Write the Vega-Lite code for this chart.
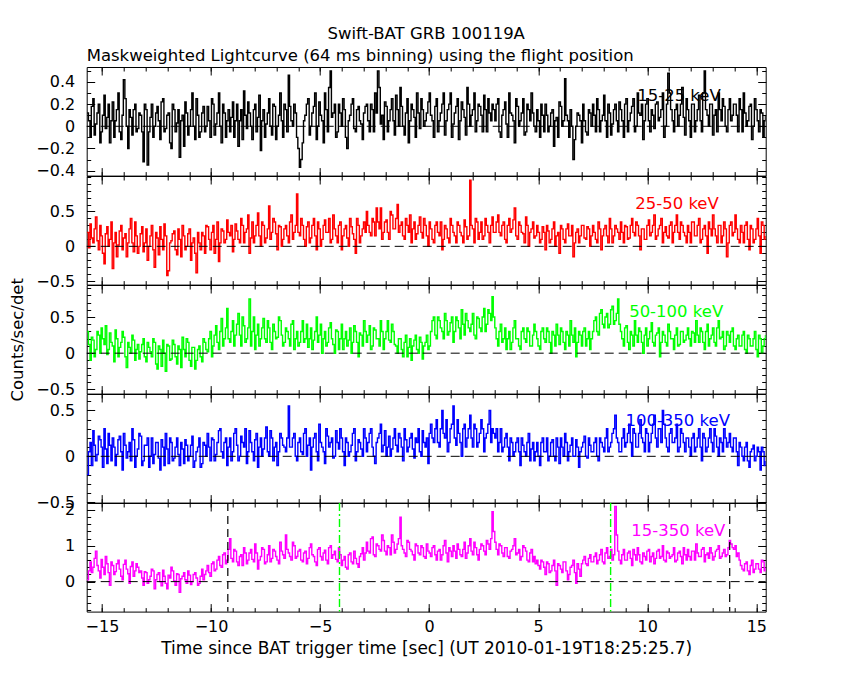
{
  "$schema": "https://vega.github.io/schema/vega-lite/v6.json",
  "background": "white",
  "padding": {"left": 8.7, "top": 26, "right": 5, "bottom": 5},
  "title": {"text": "Swift-BAT GRB 100119A", "anchor": "middle", "fontSize": 16.5, "fontWeight": "normal", "color": "black", "offset": 5, "dx": 38},
  "spacing": 0,
  "bounds": "flush",
  "datasets": {
    "lc": [
      {"t":-15.68,"a":0.12,"b":0.2,"c":0.3,"d":-0.2,"e":0.05},
      {"t":-15.62,"a":0.05,"b":-0.02,"c":0.12,"d":0.05,"e":0.3},
      {"t":-15.55,"a":-0.1,"b":0.32,"c":-0.1,"d":0.15,"e":0.55},
      {"t":-15.49,"a":0.18,"b":0.12,"c":0.22,"d":-0.1,"e":0.25},
      {"t":-15.42,"a":0.25,"b":0.05,"c":0.18,"d":0.28,"e":0.4},
      {"t":-15.36,"a":-0.08,"b":0.25,"c":-0.05,"d":0.12,"e":0.65},
      {"t":-15.3,"a":0.02,"b":0.42,"c":0.05,"d":-0.05,"e":0.85},
      {"t":-15.23,"a":0.12,"b":0.08,"c":0.3,"d":0.02,"e":0.45},
      {"t":-15.17,"a":0.2,"b":-0.05,"c":0.25,"d":0.22,"e":0.3},
      {"t":-15.1,"a":-0.15,"b":0.3,"c":0.0,"d":0.18,"e":0.1},
      {"t":-15.04,"a":-0.05,"b":0.15,"c":0.35,"d":0.1,"e":0.62},
      {"t":-14.98,"a":0.1,"b":-0.1,"c":0.2,"d":-0.12,"e":0.4},
      {"t":-14.91,"a":0.28,"b":-0.25,"c":0.12,"d":0.3,"e":0.2},
      {"t":-14.85,"a":-0.02,"b":0.18,"c":0.38,"d":0.08,"e":0.7},
      {"t":-14.78,"a":0.08,"b":0.28,"c":-0.02,"d":-0.08,"e":0.5},
      {"t":-14.72,"a":0.2,"b":0.0,"c":0.05,"d":0.25,"e":0.25},
      {"t":-14.66,"a":-0.15,"b":0.1,"c":0.28,"d":0.12,"e":-0.1},
      {"t":-14.59,"a":0.05,"b":0.35,"c":0.15,"d":-0.05,"e":0.55},
      {"t":-14.53,"a":0.22,"b":-0.32,"c":0.1,"d":0.2,"e":0.45},
      {"t":-14.46,"a":-0.1,"b":0.05,"c":-0.12,"d":0.1,"e":0.2},
      {"t":-14.4,"a":0.05,"b":0.2,"c":0.32,"d":-0.1,"e":0.28},
      {"t":-14.34,"a":0.15,"b":-0.15,"c":0.2,"d":0.02,"e":0.5},
      {"t":-14.27,"a":0.3,"b":0.02,"c":-0.05,"d":0.18,"e":0.6},
      {"t":-14.21,"a":-0.05,"b":0.22,"c":0.08,"d":0.22,"e":0.35},
      {"t":-14.14,"a":-0.12,"b":0.3,"c":0.15,"d":0.05,"e":0.15},
      {"t":-14.08,"a":0.1,"b":-0.05,"c":0.3,"d":-0.15,"e":0.05},
      {"t":-14.02,"a":0.42,"b":0.12,"c":0.22,"d":0.25,"e":0.48},
      {"t":-13.95,"a":0.25,"b":0.18,"c":-0.05,"d":0.12,"e":0.6},
      {"t":-13.89,"a":0.0,"b":-0.15,"c":-0.2,"d":-0.02,"e":0.35},
      {"t":-13.82,"a":-0.2,"b":0.05,"c":0.15,"d":0.05,"e":0.22},
      {"t":-13.76,"a":0.15,"b":0.25,"c":0.08,"d":0.15,"e":-0.05},
      {"t":-13.7,"a":0.08,"b":0.4,"c":0.0,"d":-0.05,"e":0.42},
      {"t":-13.63,"a":-0.08,"b":0.05,"c":0.25,"d":0.3,"e":0.55},
      {"t":-13.57,"a":0.15,"b":-0.08,"c":0.18,"d":0.18,"e":0.15},
      {"t":-13.5,"a":0.2,"b":0.35,"c":-0.1,"d":-0.12,"e":0.3},
      {"t":-13.44,"a":-0.05,"b":0.15,"c":0.05,"d":0.0,"e":0.5},
      {"t":-13.38,"a":-0.02,"b":-0.1,"c":0.12,"d":0.08,"e":0.4},
      {"t":-13.31,"a":0.12,"b":0.0,"c":-0.08,"d":0.25,"e":0.25},
      {"t":-13.25,"a":0.1,"b":0.18,"c":0.02,"d":0.22,"e":0.3},
      {"t":-13.18,"a":-0.05,"b":0.28,"c":0.12,"d":-0.1,"e":0.1},
      {"t":-13.12,"a":-0.32,"b":-0.08,"c":0.2,"d":-0.05,"e":-0.1},
      {"t":-13.06,"a":0.2,"b":0.05,"c":-0.05,"d":0.12,"e":0.28},
      {"t":-12.99,"a":0.15,"b":0.25,"c":-0.12,"d":0.12,"e":0.25},
      {"t":-12.93,"a":-0.35,"b":-0.2,"c":0.15,"d":0.2,"e":-0.05},
      {"t":-12.86,"a":-0.05,"b":0.0,"c":0.08,"d":-0.12,"e":0.05},
      {"t":-12.8,"a":0.08,"b":0.15,"c":0.02,"d":0.0,"e":0.15},
      {"t":-12.74,"a":0.2,"b":0.3,"c":-0.05,"d":0.2,"e":0.35},
      {"t":-12.67,"a":-0.1,"b":-0.05,"c":0.2,"d":-0.08,"e":0.3},
      {"t":-12.61,"a":0.0,"b":-0.3,"c":0.15,"d":0.02,"e":-0.2},
      {"t":-12.54,"a":0.12,"b":0.2,"c":-0.15,"d":0.15,"e":0.05},
      {"t":-12.48,"a":0.18,"b":0.12,"c":-0.22,"d":0.15,"e":0.2},
      {"t":-12.42,"a":0.05,"b":-0.12,"c":0.1,"d":-0.02,"e":0.25},
      {"t":-12.35,"a":-0.12,"b":0.28,"c":0.05,"d":-0.15,"e":0.0},
      {"t":-12.29,"a":0.22,"b":0.1,"c":-0.18,"d":0.18,"e":-0.12},
      {"t":-12.22,"a":0.25,"b":-0.05,"c":0.18,"d":0.1,"e":0.32},
      {"t":-12.16,"a":-0.05,"b":0.32,"c":0.0,"d":-0.1,"e":0.15},
      {"t":-12.1,"a":-0.02,"b":0.15,"c":-0.25,"d":0.25,"e":-0.05},
      {"t":-12.03,"a":0.1,"b":-0.42,"c":0.12,"d":0.08,"e":-0.2},
      {"t":-11.97,"a":0.12,"b":-0.35,"c":0.1,"d":-0.08,"e":0.18},
      {"t":-11.9,"a":-0.15,"b":0.05,"c":-0.1,"d":0.2,"e":0.1},
      {"t":-11.84,"a":-0.2,"b":0.08,"c":-0.08,"d":0.15,"e":0.4},
      {"t":-11.78,"a":0.2,"b":0.18,"c":0.18,"d":-0.05,"e":0.3},
      {"t":-11.71,"a":0.15,"b":0.22,"c":0.12,"d":-0.02,"e":0.02},
      {"t":-11.65,"a":-0.05,"b":-0.05,"c":-0.05,"d":0.1,"e":-0.1},
      {"t":-11.58,"a":0.03,"b":-0.12,"c":-0.15,"d":0.2,"e":0.22},
      {"t":-11.52,"a":0.15,"b":0.25,"c":0.1,"d":0.02,"e":0.2},
      {"t":-11.46,"a":-0.28,"b":0.1,"c":0.05,"d":-0.1,"e":-0.3},
      {"t":-11.39,"a":0.05,"b":-0.15,"c":-0.2,"d":0.15,"e":0.08},
      {"t":-11.33,"a":0.1,"b":0.3,"c":0.22,"d":0.08,"e":0.15},
      {"t":-11.26,"a":-0.18,"b":0.15,"c":0.05,"d":-0.08,"e":0.25},
      {"t":-11.2,"a":0.22,"b":-0.05,"c":-0.05,"d":0.18,"e":0.05},
      {"t":-11.14,"a":0.12,"b":0.0,"c":0.2,"d":0.12,"e":-0.05},
      {"t":-11.07,"a":-0.08,"b":0.18,"c":0.15,"d":-0.05,"e":0.3},
      {"t":-11.01,"a":0.0,"b":0.25,"c":-0.1,"d":0.0,"e":0.18},
      {"t":-10.94,"a":0.15,"b":-0.2,"c":-0.18,"d":0.12,"e":-0.08},
      {"t":-10.88,"a":0.3,"b":0.05,"c":0.08,"d":0.22,"e":0.0},
      {"t":-10.82,"a":0.0,"b":0.12,"c":0.08,"d":-0.12,"e":0.2},
      {"t":-10.75,"a":-0.12,"b":-0.1,"c":-0.22,"d":-0.05,"e":0.25},
      {"t":-10.69,"a":0.25,"b":-0.38,"c":-0.1,"d":0.05,"e":0.1},
      {"t":-10.62,"a":0.1,"b":0.2,"c":0.05,"d":0.1,"e":-0.1},
      {"t":-10.56,"a":-0.1,"b":0.05,"c":0.1,"d":0.2,"e":-0.05},
      {"t":-10.5,"a":-0.05,"b":-0.05,"c":-0.05,"d":-0.12,"e":0.15},
      {"t":-10.43,"a":0.12,"b":0.2,"c":-0.12,"d":-0.08,"e":0.35},
      {"t":-10.37,"a":0.18,"b":0.15,"c":0.2,"d":0.15,"e":0.05},
      {"t":-10.3,"a":-0.05,"b":-0.1,"c":0.15,"d":0.12,"e":0.2},
      {"t":-10.24,"a":0.0,"b":0.3,"c":0.05,"d":0.0,"e":0.3},
      {"t":-10.18,"a":0.18,"b":0.28,"c":0.02,"d":0.25,"e":0.45},
      {"t":-10.11,"a":0.05,"b":0.1,"c":0.2,"d":0.1,"e":0.25},
      {"t":-10.05,"a":-0.1,"b":-0.05,"c":0.3,"d":-0.05,"e":0.15},
      {"t":-9.98,"a":0.25,"b":0.2,"c":-0.05,"d":0.2,"e":0.5},
      {"t":-9.92,"a":0.2,"b":0.3,"c":0.1,"d":0.18,"e":0.55},
      {"t":-9.86,"a":-0.08,"b":-0.1,"c":0.25,"d":-0.05,"e":0.3},
      {"t":-9.79,"a":0.02,"b":0.1,"c":0.38,"d":0.02,"e":0.35},
      {"t":-9.73,"a":0.12,"b":0.35,"c":0.15,"d":0.15,"e":0.6},
      {"t":-9.66,"a":0.3,"b":-0.22,"c":0.05,"d":0.28,"e":0.7},
      {"t":-9.6,"a":0.0,"b":0.05,"c":0.3,"d":0.3,"e":0.45},
      {"t":-9.54,"a":-0.15,"b":0.25,"c":0.48,"d":0.05,"e":0.4},
      {"t":-9.47,"a":0.2,"b":0.22,"c":0.1,"d":-0.02,"e":0.75},
      {"t":-9.41,"a":0.12,"b":0.05,"c":0.2,"d":0.15,"e":0.8},
      {"t":-9.34,"a":-0.1,"b":0.1,"c":0.35,"d":0.2,"e":0.5},
      {"t":-9.28,"a":0.05,"b":0.38,"c":0.62,"d":-0.1,"e":0.6},
      {"t":-9.22,"a":0.15,"b":0.2,"c":0.2,"d":0.1,"e":0.9},
      {"t":-9.15,"a":-0.05,"b":0.15,"c":0.15,"d":0.2,"e":1.2},
      {"t":-9.09,"a":0.08,"b":0.3,"c":0.3,"d":-0.05,"e":0.65},
      {"t":-9.02,"a":0.22,"b":-0.08,"c":0.45,"d":0.05,"e":0.55},
      {"t":-8.96,"a":-0.1,"b":0.1,"c":0.1,"d":0.25,"e":0.9},
      {"t":-8.9,"a":0.05,"b":0.32,"c":0.25,"d":0.3,"e":0.85},
      {"t":-8.83,"a":0.2,"b":0.22,"c":0.4,"d":0.12,"e":0.55},
      {"t":-8.77,"a":-0.18,"b":0.1,"c":0.55,"d":-0.05,"e":0.45},
      {"t":-8.7,"a":0.05,"b":0.05,"c":0.25,"d":0.0,"e":0.7},
      {"t":-8.64,"a":0.15,"b":0.4,"c":0.1,"d":0.22,"e":0.75},
      {"t":-8.58,"a":-0.12,"b":0.3,"c":0.5,"d":0.15,"e":0.45},
      {"t":-8.51,"a":0.32,"b":0.05,"c":0.38,"d":0.1,"e":0.95},
      {"t":-8.45,"a":0.1,"b":0.2,"c":0.15,"d":0.3,"e":0.8},
      {"t":-8.38,"a":-0.02,"b":0.25,"c":0.2,"d":-0.08,"e":0.5},
      {"t":-8.32,"a":0.22,"b":0.45,"c":0.35,"d":0.05,"e":0.6},
      {"t":-8.26,"a":0.12,"b":-0.1,"c":0.75,"d":0.28,"e":0.8},
      {"t":-8.19,"a":0.0,"b":0.12,"c":0.1,"d":0.15,"e":0.9},
      {"t":-8.13,"a":-0.12,"b":0.35,"c":0.3,"d":0.05,"e":0.62},
      {"t":-8.06,"a":0.15,"b":0.05,"c":0.5,"d":-0.05,"e":0.55},
      {"t":-8.0,"a":0.2,"b":0.15,"c":0.05,"d":0.18,"e":1.05},
      {"t":-7.94,"a":-0.05,"b":0.3,"c":0.25,"d":0.25,"e":0.8},
      {"t":-7.87,"a":0.08,"b":0.48,"c":0.4,"d":-0.12,"e":0.35},
      {"t":-7.81,"a":0.28,"b":0.15,"c":0.1,"d":0.1,"e":0.6},
      {"t":-7.74,"a":-0.22,"b":0.0,"c":0.2,"d":0.2,"e":0.7},
      {"t":-7.68,"a":0.05,"b":0.35,"c":0.35,"d":0.0,"e":0.95},
      {"t":-7.62,"a":0.15,"b":0.3,"c":0.48,"d":0.08,"e":0.9},
      {"t":-7.55,"a":-0.1,"b":0.05,"c":0.2,"d":0.2,"e":0.5},
      {"t":-7.49,"a":0.02,"b":0.12,"c":0.15,"d":0.32,"e":0.55},
      {"t":-7.42,"a":0.12,"b":0.25,"c":0.45,"d":0.05,"e":0.75},
      {"t":-7.36,"a":0.25,"b":0.58,"c":0.35,"d":0.0,"e":1.0},
      {"t":-7.3,"a":0.0,"b":0.1,"c":0.15,"d":0.28,"e":0.55},
      {"t":-7.23,"a":-0.08,"b":0.2,"c":0.05,"d":0.2,"e":0.65},
      {"t":-7.17,"a":0.2,"b":0.4,"c":0.4,"d":-0.05,"e":0.9},
      {"t":-7.1,"a":0.18,"b":0.35,"c":0.3,"d":0.1,"e":0.85},
      {"t":-7.04,"a":-0.12,"b":0.18,"c":0.2,"d":0.15,"e":0.7},
      {"t":-6.98,"a":0.0,"b":-0.05,"c":0.22,"d":-0.1,"e":0.6},
      {"t":-6.91,"a":0.1,"b":0.3,"c":0.5,"d":0.05,"e":0.5},
      {"t":-6.85,"a":0.3,"b":0.28,"c":0.45,"d":0.25,"e":1.1},
      {"t":-6.78,"a":0.05,"b":0.0,"c":0.25,"d":0.2,"e":0.85},
      {"t":-6.72,"a":-0.1,"b":0.1,"c":0.1,"d":0.12,"e":0.75},
      {"t":-6.66,"a":0.2,"b":0.25,"c":0.15,"d":0.1,"e":0.65},
      {"t":-6.59,"a":0.15,"b":0.3,"c":0.35,"d":0.05,"e":1.3},
      {"t":-6.53,"a":-0.05,"b":0.15,"c":0.3,"d":0.2,"e":0.9},
      {"t":-6.46,"a":0.46,"b":0.05,"c":0.2,"d":0.55,"e":0.8},
      {"t":-6.4,"a":0.18,"b":0.35,"c":0.1,"d":0.1,"e":0.7},
      {"t":-6.34,"a":0.05,"b":0.45,"c":0.4,"d":0.1,"e":0.6},
      {"t":-6.27,"a":0.0,"b":0.1,"c":0.45,"d":0.2,"e":1.1},
      {"t":-6.21,"a":0.2,"b":0.2,"c":0.05,"d":0.25,"e":1.0},
      {"t":-6.14,"a":0.12,"b":0.3,"c":0.2,"d":0.0,"e":0.65},
      {"t":-6.08,"a":-0.1,"b":0.75,"c":0.3,"d":-0.05,"e":0.7},
      {"t":-6.02,"a":-0.2,"b":0.2,"c":0.1,"d":0.15,"e":0.85},
      {"t":-5.95,"a":-0.37,"b":0.15,"c":0.15,"d":0.2,"e":0.9},
      {"t":-5.89,"a":-0.3,"b":0.4,"c":0.3,"d":0.05,"e":0.6},
      {"t":-5.82,"a":-0.15,"b":0.3,"c":0.45,"d":0.02,"e":0.55},
      {"t":-5.76,"a":0.05,"b":0.1,"c":0.15,"d":0.25,"e":0.8},
      {"t":-5.7,"a":0.1,"b":0.0,"c":0.2,"d":0.3,"e":0.85},
      {"t":-5.63,"a":0.2,"b":0.28,"c":0.4,"d":0.0,"e":0.5},
      {"t":-5.57,"a":0.25,"b":0.35,"c":0.08,"d":0.12,"e":0.65},
      {"t":-5.5,"a":-0.08,"b":0.05,"c":0.2,"d":0.2,"e":0.95},
      {"t":-5.44,"a":0.0,"b":0.12,"c":0.35,"d":-0.15,"e":1.05},
      {"t":-5.38,"a":0.12,"b":0.3,"c":0.05,"d":0.1,"e":0.75},
      {"t":-5.31,"a":0.18,"b":0.4,"c":0.18,"d":0.2,"e":0.7},
      {"t":-5.25,"a":0.3,"b":0.15,"c":0.3,"d":0.25,"e":0.55},
      {"t":-5.18,"a":-0.12,"b":-0.05,"c":0.5,"d":0.05,"e":0.45},
      {"t":-5.12,"a":0.0,"b":0.35,"c":0.15,"d":-0.05,"e":0.9},
      {"t":-5.06,"a":0.22,"b":0.25,"c":0.25,"d":0.35,"e":0.95},
      {"t":-4.99,"a":0.1,"b":0.0,"c":0.4,"d":0.15,"e":0.7},
      {"t":-4.93,"a":0.05,"b":0.1,"c":0.0,"d":0.1,"e":0.6},
      {"t":-4.86,"a":-0.15,"b":0.3,"c":0.2,"d":0.05,"e":0.8},
      {"t":-4.8,"a":0.3,"b":0.38,"c":0.3,"d":-0.08,"e":0.88},
      {"t":-4.74,"a":0.15,"b":0.2,"c":0.1,"d":0.3,"e":0.6},
      {"t":-4.67,"a":-0.05,"b":0.2,"c":0.15,"d":0.22,"e":0.5},
      {"t":-4.61,"a":0.35,"b":0.4,"c":0.35,"d":0.1,"e":0.95},
      {"t":-4.54,"a":0.5,"b":0.05,"c":0.42,"d":0.15,"e":1.0},
      {"t":-4.48,"a":0.08,"b":0.1,"c":0.2,"d":0.2,"e":0.65},
      {"t":-4.42,"a":0.12,"b":0.45,"c":0.12,"d":-0.02,"e":0.75},
      {"t":-4.35,"a":0.2,"b":0.25,"c":0.0,"d":0.0,"e":0.85},
      {"t":-4.29,"a":-0.1,"b":0.15,"c":0.32,"d":0.28,"e":0.62},
      {"t":-4.22,"a":-0.05,"b":0.05,"c":0.3,"d":0.15,"e":0.55},
      {"t":-4.16,"a":0.2,"b":0.3,"c":0.05,"d":0.08,"e":0.95},
      {"t":-4.1,"a":0.12,"b":0.35,"c":0.2,"d":0.3,"e":0.75},
      {"t":-4.03,"a":0.0,"b":-0.05,"c":0.4,"d":0.2,"e":0.45},
      {"t":-3.97,"a":0.25,"b":0.15,"c":0.05,"d":0.05,"e":0.6},
      {"t":-3.9,"a":0.15,"b":0.25,"c":0.2,"d":-0.1,"e":0.7},
      {"t":-3.84,"a":-0.1,"b":0.3,"c":0.3,"d":0.2,"e":0.4},
      {"t":-3.78,"a":-0.2,"b":0.12,"c":0.1,"d":0.15,"e":0.35},
      {"t":-3.71,"a":0.05,"b":0.0,"c":0.18,"d":0.0,"e":0.75},
      {"t":-3.65,"a":0.1,"b":0.4,"c":0.35,"d":0.05,"e":0.8},
      {"t":-3.58,"a":0.2,"b":0.28,"c":0.0,"d":0.12,"e":0.55},
      {"t":-3.52,"a":0.25,"b":0.18,"c":0.15,"d":0.25,"e":0.5},
      {"t":-3.46,"a":-0.02,"b":0.1,"c":0.38,"d":0.3,"e":0.85},
      {"t":-3.39,"a":-0.05,"b":-0.1,"c":0.3,"d":-0.05,"e":0.65},
      {"t":-3.33,"a":0.15,"b":0.4,"c":0.15,"d":0.05,"e":0.5},
      {"t":-3.26,"a":0.18,"b":0.3,"c":-0.05,"d":0.18,"e":0.4},
      {"t":-3.2,"a":0.05,"b":0.05,"c":0.28,"d":0.15,"e":0.7},
      {"t":-3.14,"a":0.02,"b":0.15,"c":0.25,"d":0.08,"e":0.78},
      {"t":-3.07,"a":-0.12,"b":0.25,"c":0.1,"d":0.0,"e":0.95},
      {"t":-3.01,"a":0.12,"b":0.35,"c":0.45,"d":0.3,"e":0.6},
      {"t":-2.94,"a":0.18,"b":0.2,"c":0.3,"d":0.2,"e":0.8},
      {"t":-2.88,"a":0.2,"b":0.5,"c":0.15,"d":0.05,"e":1.1},
      {"t":-2.82,"a":0.05,"b":0.3,"c":0.25,"d":0.15,"e":0.85},
      {"t":-2.75,"a":-0.05,"b":0.2,"c":0.38,"d":0.25,"e":0.8},
      {"t":-2.69,"a":0.2,"b":0.15,"c":0.05,"d":0.3,"e":1.2},
      {"t":-2.62,"a":0.15,"b":0.4,"c":0.1,"d":0.1,"e":1.25},
      {"t":-2.56,"a":-0.05,"b":0.35,"c":0.35,"d":0.0,"e":0.75},
      {"t":-2.5,"a":0.3,"b":0.15,"c":0.32,"d":-0.08,"e":0.7},
      {"t":-2.43,"a":0.12,"b":0.55,"c":0.2,"d":0.15,"e":1.05},
      {"t":-2.37,"a":0.5,"b":0.35,"c":0.2,"d":0.2,"e":1.0},
      {"t":-2.3,"a":0.35,"b":0.25,"c":0.1,"d":0.25,"e":0.9},
      {"t":-2.24,"a":0.02,"b":0.55,"c":0.45,"d":0.35,"e":0.85},
      {"t":-2.18,"a":0.1,"b":0.1,"c":0.3,"d":0.05,"e":1.3},
      {"t":-2.11,"a":-0.12,"b":0.2,"c":0.05,"d":0.12,"e":1.15},
      {"t":-2.05,"a":0.22,"b":0.35,"c":0.2,"d":0.28,"e":0.85},
      {"t":-1.98,"a":0.18,"b":0.38,"c":0.3,"d":0.0,"e":0.75},
      {"t":-1.92,"a":-0.05,"b":0.2,"c":0.45,"d":0.1,"e":1.0},
      {"t":-1.86,"a":0.05,"b":0.1,"c":0.18,"d":0.22,"e":0.95},
      {"t":-1.79,"a":0.15,"b":0.5,"c":0.15,"d":0.0,"e":0.75},
      {"t":-1.73,"a":0.25,"b":0.45,"c":0.4,"d":0.08,"e":1.3},
      {"t":-1.66,"a":0.05,"b":0.25,"c":0.3,"d":0.2,"e":1.1},
      {"t":-1.6,"a":-0.08,"b":0.25,"c":0.12,"d":0.3,"e":0.8},
      {"t":-1.54,"a":0.28,"b":0.4,"c":0.1,"d":0.12,"e":0.9},
      {"t":-1.47,"a":0.15,"b":0.6,"c":0.0,"d":0.05,"e":1.05},
      {"t":-1.41,"a":0.0,"b":0.2,"c":0.2,"d":0.25,"e":1.2},
      {"t":-1.34,"a":0.35,"b":0.3,"c":0.2,"d":0.2,"e":1.8},
      {"t":-1.28,"a":0.18,"b":0.35,"c":0.05,"d":0.1,"e":1.0},
      {"t":-1.22,"a":0.0,"b":0.15,"c":-0.05,"d":-0.05,"e":0.9},
      {"t":-1.15,"a":-0.08,"b":0.1,"c":0.15,"d":0.3,"e":0.8},
      {"t":-1.09,"a":0.12,"b":0.4,"c":0.25,"d":0.18,"e":0.7},
      {"t":-1.02,"a":0.25,"b":0.3,"c":-0.05,"d":0.05,"e":1.15},
      {"t":-0.96,"a":-0.15,"b":0.2,"c":0.08,"d":0.1,"e":1.1},
      {"t":-0.9,"a":0.05,"b":0.45,"c":0.2,"d":0.2,"e":0.9},
      {"t":-0.83,"a":0.2,"b":0.05,"c":-0.1,"d":0.25,"e":0.85},
      {"t":-0.77,"a":0.15,"b":0.25,"c":0.1,"d":0.08,"e":0.75},
      {"t":-0.7,"a":0.08,"b":0.35,"c":0.18,"d":-0.02,"e":0.6},
      {"t":-0.64,"a":-0.1,"b":0.1,"c":0.25,"d":0.2,"e":1.05},
      {"t":-0.58,"a":0.3,"b":0.18,"c":0.05,"d":0.15,"e":1.0},
      {"t":-0.51,"a":0.12,"b":0.3,"c":0.0,"d":0.3,"e":0.8},
      {"t":-0.45,"a":-0.02,"b":0.42,"c":0.22,"d":0.05,"e":0.75},
      {"t":-0.38,"a":0.25,"b":0.2,"c":0.15,"d":0.0,"e":1.0},
      {"t":-0.32,"a":0.15,"b":0.12,"c":-0.08,"d":0.28,"e":0.95},
      {"t":-0.26,"a":0.0,"b":0.4,"c":0.1,"d":0.15,"e":0.7},
      {"t":-0.19,"a":0.05,"b":0.3,"c":0.15,"d":0.1,"e":0.65},
      {"t":-0.13,"a":0.12,"b":0.15,"c":0.25,"d":0.2,"e":1.05},
      {"t":-0.06,"a":0.22,"b":0.0,"c":0.05,"d":-0.08,"e":0.85},
      {"t":0.0,"a":0.3,"b":0.35,"c":0.1,"d":0.25,"e":0.8},
      {"t":0.06,"a":0.1,"b":0.25,"c":0.3,"d":0.35,"e":0.7},
      {"t":0.13,"a":0.05,"b":0.1,"c":0.45,"d":0.2,"e":0.95},
      {"t":0.19,"a":-0.1,"b":0.05,"c":0.5,"d":0.15,"e":1.0},
      {"t":0.26,"a":0.18,"b":0.3,"c":0.25,"d":0.3,"e":0.75},
      {"t":0.32,"a":0.25,"b":0.35,"c":0.2,"d":0.4,"e":0.6},
      {"t":0.38,"a":-0.05,"b":0.2,"c":0.5,"d":0.15,"e":0.85},
      {"t":0.45,"a":0.05,"b":0.15,"c":0.45,"d":0.1,"e":0.9},
      {"t":0.51,"a":0.12,"b":0.35,"c":0.35,"d":0.3,"e":0.6},
      {"t":0.58,"a":0.2,"b":-0.05,"c":0.3,"d":0.5,"e":0.75},
      {"t":0.64,"a":0.3,"b":0.1,"c":0.2,"d":0.25,"e":1.0},
      {"t":0.7,"a":-0.08,"b":0.3,"c":0.55,"d":0.2,"e":1.15},
      {"t":0.77,"a":0.05,"b":0.25,"c":0.45,"d":0.4,"e":0.8},
      {"t":0.83,"a":0.15,"b":0.12,"c":0.25,"d":0.05,"e":0.55},
      {"t":0.9,"a":0.2,"b":0.05,"c":0.3,"d":0.15,"e":0.95},
      {"t":0.96,"a":0.3,"b":0.4,"c":0.42,"d":0.3,"e":0.85},
      {"t":1.02,"a":-0.1,"b":0.3,"c":0.5,"d":0.35,"e":0.7},
      {"t":1.09,"a":0.02,"b":0.2,"c":0.15,"d":0.55,"e":1.0},
      {"t":1.15,"a":0.12,"b":0.15,"c":0.3,"d":0.2,"e":0.85},
      {"t":1.22,"a":0.18,"b":0.05,"c":0.5,"d":0.12,"e":0.65},
      {"t":1.28,"a":0.25,"b":0.35,"c":0.45,"d":0.4,"e":1.05},
      {"t":1.34,"a":-0.12,"b":0.3,"c":0.35,"d":0.25,"e":0.9},
      {"t":1.41,"a":0.05,"b":0.2,"c":0.2,"d":0.15,"e":0.75},
      {"t":1.47,"a":0.22,"b":0.15,"c":0.6,"d":0.0,"e":0.7},
      {"t":1.54,"a":0.15,"b":0.05,"c":0.4,"d":0.3,"e":0.9},
      {"t":1.6,"a":0.08,"b":0.38,"c":0.25,"d":0.35,"e":1.1},
      {"t":1.66,"a":-0.08,"b":0.28,"c":0.55,"d":0.1,"e":0.65},
      {"t":1.73,"a":0.35,"b":0.1,"c":0.45,"d":0.2,"e":0.8},
      {"t":1.79,"a":0.2,"b":0.15,"c":0.35,"d":0.3,"e":1.0},
      {"t":1.86,"a":0.0,"b":0.95,"c":0.3,"d":0.45,"e":1.2},
      {"t":1.92,"a":0.1,"b":0.3,"c":0.4,"d":0.2,"e":0.85},
      {"t":1.98,"a":0.15,"b":0.25,"c":0.55,"d":0.1,"e":0.75},
      {"t":2.05,"a":0.3,"b":0.05,"c":0.25,"d":0.35,"e":1.1},
      {"t":2.11,"a":-0.05,"b":0.4,"c":0.2,"d":0.3,"e":0.95},
      {"t":2.18,"a":0.05,"b":0.35,"c":0.5,"d":0.1,"e":0.75},
      {"t":2.24,"a":0.2,"b":0.1,"c":0.48,"d":0.15,"e":0.6},
      {"t":2.3,"a":0.18,"b":0.2,"c":0.35,"d":0.25,"e":0.9},
      {"t":2.37,"a":0.1,"b":0.35,"c":0.3,"d":0.4,"e":1.05},
      {"t":2.43,"a":-0.05,"b":0.1,"c":0.5,"d":0.3,"e":1.0},
      {"t":2.5,"a":0.28,"b":0.15,"c":0.62,"d":0.05,"e":0.85},
      {"t":2.56,"a":0.15,"b":0.4,"c":0.3,"d":0.2,"e":0.75},
      {"t":2.62,"a":-0.05,"b":0.3,"c":0.4,"d":0.25,"e":1.15},
      {"t":2.69,"a":0.25,"b":0.2,"c":0.6,"d":0.35,"e":1.05},
      {"t":2.75,"a":0.12,"b":0.05,"c":0.55,"d":0.5,"e":0.9},
      {"t":2.82,"a":0.05,"b":0.3,"c":0.45,"d":0.15,"e":1.2},
      {"t":2.88,"a":0.2,"b":0.42,"c":0.78,"d":0.3,"e":1.95},
      {"t":2.94,"a":0.15,"b":0.2,"c":0.5,"d":0.25,"e":1.4},
      {"t":3.01,"a":0.05,"b":0.2,"c":0.35,"d":0.2,"e":1.1},
      {"t":3.07,"a":0.2,"b":0.35,"c":0.2,"d":0.3,"e":0.9},
      {"t":3.14,"a":0.25,"b":0.45,"c":0.1,"d":0.05,"e":0.75},
      {"t":3.2,"a":-0.05,"b":0.2,"c":0.3,"d":0.15,"e":1.05},
      {"t":3.26,"a":-0.1,"b":0.15,"c":0.4,"d":0.3,"e":1.0},
      {"t":3.33,"a":0.1,"b":0.3,"c":0.15,"d":0.05,"e":0.8},
      {"t":3.39,"a":0.15,"b":0.35,"c":0.2,"d":0.1,"e":0.7},
      {"t":3.46,"a":0.22,"b":0.1,"c":0.35,"d":0.2,"e":0.95},
      {"t":3.52,"a":0.02,"b":0.05,"c":0.05,"d":0.25,"e":0.95},
      {"t":3.58,"a":-0.1,"b":0.3,"c":0.2,"d":0.1,"e":0.7},
      {"t":3.65,"a":0.3,"b":0.4,"c":0.3,"d":-0.05,"e":0.65},
      {"t":3.71,"a":0.12,"b":0.2,"c":0.05,"d":0.2,"e":0.85},
      {"t":3.78,"a":0.1,"b":0.25,"c":0.15,"d":0.15,"e":0.9},
      {"t":3.84,"a":0.05,"b":0.38,"c":0.35,"d":0.0,"e":1.0},
      {"t":3.9,"a":-0.15,"b":0.55,"c":0.45,"d":0.05,"e":1.2},
      {"t":3.97,"a":0.25,"b":0.15,"c":0.2,"d":0.15,"e":0.75},
      {"t":4.03,"a":0.18,"b":0.1,"c":0.2,"d":0.2,"e":0.8},
      {"t":4.1,"a":0.0,"b":0.35,"c":0.1,"d":0.05,"e":0.9},
      {"t":4.16,"a":0.05,"b":0.3,"c":0.05,"d":-0.1,"e":0.6},
      {"t":4.22,"a":0.12,"b":0.2,"c":0.3,"d":0.2,"e":0.7},
      {"t":4.29,"a":0.25,"b":0.18,"c":0.35,"d":0.12,"e":1.0},
      {"t":4.35,"a":-0.08,"b":0.05,"c":0.2,"d":0.05,"e":0.95},
      {"t":4.42,"a":-0.05,"b":0.42,"c":0.15,"d":0.0,"e":0.85},
      {"t":4.48,"a":0.2,"b":0.3,"c":0.35,"d":0.15,"e":0.6},
      {"t":4.54,"a":0.15,"b":0.0,"c":0.3,"d":0.25,"e":0.55},
      {"t":4.61,"a":0.05,"b":0.2,"c":0.1,"d":-0.05,"e":0.8},
      {"t":4.67,"a":0.3,"b":0.25,"c":0.1,"d":0.08,"e":0.9},
      {"t":4.74,"a":0.12,"b":0.35,"c":0.25,"d":0.15,"e":0.55},
      {"t":4.8,"a":0.0,"b":0.12,"c":0.4,"d":-0.05,"e":0.7},
      {"t":4.86,"a":-0.05,"b":0.15,"c":0.3,"d":0.05,"e":0.5},
      {"t":4.93,"a":0.15,"b":0.3,"c":0.2,"d":0.15,"e":0.6},
      {"t":4.99,"a":0.05,"b":0.2,"c":0.1,"d":0.0,"e":0.45},
      {"t":5.06,"a":-0.1,"b":0.05,"c":0.05,"d":-0.1,"e":0.35},
      {"t":5.12,"a":0.2,"b":0.1,"c":0.3,"d":0.15,"e":0.6},
      {"t":5.18,"a":0.1,"b":0.28,"c":0.35,"d":0.2,"e":0.55},
      {"t":5.25,"a":-0.05,"b":0.2,"c":0.2,"d":0.05,"e":0.4},
      {"t":5.31,"a":0.2,"b":-0.05,"c":0.15,"d":0.05,"e":0.2},
      {"t":5.38,"a":0.1,"b":0.3,"c":0.35,"d":0.2,"e":0.55},
      {"t":5.44,"a":-0.05,"b":0.22,"c":0.3,"d":-0.05,"e":0.5},
      {"t":5.5,"a":0.0,"b":0.05,"c":0.15,"d":0.0,"e":0.25},
      {"t":5.57,"a":0.12,"b":0.1,"c":0.0,"d":0.15,"e":0.3},
      {"t":5.63,"a":0.15,"b":0.25,"c":0.3,"d":0.18,"e":0.45},
      {"t":5.7,"a":-0.18,"b":0.35,"c":0.25,"d":0.0,"e":0.6},
      {"t":5.76,"a":0.05,"b":0.0,"c":0.1,"d":-0.05,"e":0.3},
      {"t":5.82,"a":0.08,"b":0.15,"c":0.4,"d":0.2,"e":-0.1},
      {"t":5.89,"a":-0.1,"b":0.2,"c":0.25,"d":0.1,"e":0.5},
      {"t":5.95,"a":0.22,"b":-0.1,"c":0.12,"d":-0.08,"e":0.45},
      {"t":6.02,"a":0.18,"b":0.3,"c":0.35,"d":0.2,"e":0.35},
      {"t":6.08,"a":0.0,"b":0.25,"c":0.3,"d":0.1,"e":0.25},
      {"t":6.14,"a":0.05,"b":0.1,"c":0.15,"d":0.0,"e":0.55},
      {"t":6.21,"a":0.43,"b":0.05,"c":0.05,"d":0.25,"e":0.55},
      {"t":6.27,"a":0.1,"b":0.25,"c":0.3,"d":0.15,"e":0.3},
      {"t":6.34,"a":0.05,"b":0.32,"c":0.25,"d":-0.05,"e":0.05},
      {"t":6.4,"a":-0.1,"b":0.15,"c":0.1,"d":0.05,"e":0.2},
      {"t":6.46,"a":0.15,"b":0.15,"c":0.45,"d":0.12,"e":0.4},
      {"t":6.53,"a":0.0,"b":0.3,"c":0.25,"d":0.2,"e":0.45},
      {"t":6.59,"a":-0.3,"b":-0.15,"c":0.15,"d":0.0,"e":0.6},
      {"t":6.66,"a":-0.12,"b":0.05,"c":0.35,"d":0.0,"e":0.25},
      {"t":6.72,"a":0.0,"b":0.2,"c":-0.05,"d":0.18,"e":-0.05},
      {"t":6.78,"a":0.12,"b":0.25,"c":0.15,"d":0.1,"e":0.5},
      {"t":6.85,"a":0.1,"b":0.05,"c":0.3,"d":-0.12,"e":0.35},
      {"t":6.91,"a":0.05,"b":0.15,"c":0.25,"d":0.05,"e":0.15},
      {"t":6.98,"a":-0.15,"b":0.3,"c":0.1,"d":0.1,"e":0.5},
      {"t":7.04,"a":0.2,"b":0.3,"c":0.3,"d":0.15,"e":0.6},
      {"t":7.1,"a":0.05,"b":0.12,"c":0.35,"d":0.22,"e":0.7},
      {"t":7.17,"a":-0.05,"b":0.1,"c":0.1,"d":0.0,"e":0.5},
      {"t":7.23,"a":-0.08,"b":0.28,"c":0.2,"d":-0.02,"e":0.45},
      {"t":7.3,"a":0.15,"b":0.25,"c":0.3,"d":0.2,"e":0.65},
      {"t":7.36,"a":0.12,"b":0.0,"c":0.05,"d":0.12,"e":0.75},
      {"t":7.42,"a":0.0,"b":0.15,"c":0.2,"d":0.05,"e":0.55},
      {"t":7.49,"a":0.2,"b":0.3,"c":0.3,"d":0.05,"e":0.55},
      {"t":7.55,"a":0.1,"b":0.2,"c":0.45,"d":0.15,"e":0.7},
      {"t":7.62,"a":-0.05,"b":0.1,"c":0.5,"d":0.2,"e":0.8},
      {"t":7.68,"a":0.25,"b":0.05,"c":0.3,"d":0.0,"e":0.5},
      {"t":7.74,"a":0.15,"b":0.35,"c":0.25,"d":-0.05,"e":0.6},
      {"t":7.81,"a":-0.05,"b":0.25,"c":0.55,"d":0.2,"e":0.75},
      {"t":7.87,"a":0.05,"b":-0.05,"c":0.6,"d":0.15,"e":0.9},
      {"t":7.94,"a":0.1,"b":0.15,"c":0.4,"d":0.1,"e":0.55},
      {"t":8.0,"a":0.28,"b":0.25,"c":0.35,"d":0.05,"e":0.5},
      {"t":8.06,"a":0.05,"b":0.3,"c":0.5,"d":0.2,"e":0.8},
      {"t":8.13,"a":-0.1,"b":0.15,"c":0.55,"d":0.3,"e":0.95},
      {"t":8.19,"a":0.2,"b":0.05,"c":0.35,"d":0.05,"e":0.65},
      {"t":8.26,"a":0.12,"b":0.4,"c":0.4,"d":0.1,"e":0.7},
      {"t":8.32,"a":-0.08,"b":0.25,"c":0.6,"d":0.15,"e":0.9},
      {"t":8.38,"a":0.02,"b":0.05,"c":0.65,"d":0.25,"e":0.6},
      {"t":8.45,"a":0.15,"b":0.15,"c":0.4,"d":0.3,"e":0.75},
      {"t":8.51,"a":0.2,"b":0.3,"c":0.45,"d":0.45,"e":2.1},
      {"t":8.58,"a":0.05,"b":0.25,"c":0.55,"d":0.2,"e":1.3},
      {"t":8.64,"a":-0.05,"b":0.2,"c":0.75,"d":0.15,"e":0.85},
      {"t":8.7,"a":0.22,"b":0.1,"c":0.4,"d":0.05,"e":0.6},
      {"t":8.77,"a":0.15,"b":0.35,"c":0.3,"d":0.05,"e":0.5},
      {"t":8.83,"a":0.05,"b":0.2,"c":0.2,"d":0.2,"e":0.75},
      {"t":8.9,"a":-0.1,"b":0.05,"c":0.1,"d":0.3,"e":0.9},
      {"t":8.96,"a":0.2,"b":0.3,"c":0.35,"d":0.1,"e":0.6},
      {"t":9.02,"a":0.25,"b":0.28,"c":0.38,"d":0.15,"e":0.6},
      {"t":9.09,"a":-0.05,"b":0.1,"c":0.15,"d":0.25,"e":0.8},
      {"t":9.15,"a":0.05,"b":0.12,"c":0.05,"d":0.35,"e":0.85},
      {"t":9.22,"a":0.12,"b":0.3,"c":0.3,"d":0.15,"e":0.65},
      {"t":9.28,"a":0.18,"b":0.4,"c":0.25,"d":0.0,"e":0.45},
      {"t":9.34,"a":0.25,"b":0.2,"c":0.1,"d":0.3,"e":0.9},
      {"t":9.41,"a":-0.05,"b":0.15,"c":0.45,"d":0.25,"e":0.75},
      {"t":9.47,"a":0.0,"b":0.35,"c":0.25,"d":0.1,"e":0.6},
      {"t":9.54,"a":0.3,"b":0.3,"c":0.15,"d":0.1,"e":0.95},
      {"t":9.6,"a":0.12,"b":0.15,"c":0.35,"d":0.25,"e":0.75},
      {"t":9.66,"a":0.1,"b":-0.05,"c":0.3,"d":0.4,"e":0.55},
      {"t":9.73,"a":0.2,"b":0.25,"c":0.15,"d":0.2,"e":0.5},
      {"t":9.79,"a":-0.12,"b":0.25,"c":0.0,"d":0.15,"e":0.8},
      {"t":9.86,"a":0.05,"b":0.1,"c":0.25,"d":0.05,"e":0.7},
      {"t":9.92,"a":0.2,"b":0.1,"c":0.35,"d":0.3,"e":0.6},
      {"t":9.98,"a":0.25,"b":0.3,"c":0.1,"d":0.25,"e":0.85},
      {"t":10.05,"a":0.05,"b":0.38,"c":0.2,"d":0.05,"e":0.9},
      {"t":10.11,"a":-0.05,"b":0.15,"c":0.3,"d":0.15,"e":0.55},
      {"t":10.18,"a":0.15,"b":0.2,"c":0.42,"d":0.25,"e":0.7},
      {"t":10.24,"a":0.1,"b":0.3,"c":0.15,"d":0.35,"e":0.8},
      {"t":10.3,"a":-0.02,"b":0.45,"c":0.1,"d":0.45,"e":0.5},
      {"t":10.37,"a":0.2,"b":0.1,"c":0.25,"d":0.2,"e":0.65},
      {"t":10.43,"a":0.22,"b":0.15,"c":0.28,"d":0.1,"e":0.85},
      {"t":10.5,"a":0.05,"b":0.25,"c":0.35,"d":0.3,"e":0.9},
      {"t":10.56,"a":0.08,"b":0.3,"c":-0.05,"d":0.3,"e":0.65},
      {"t":10.62,"a":0.15,"b":0.4,"c":0.15,"d":0.15,"e":0.7},
      {"t":10.69,"a":0.3,"b":0.05,"c":0.3,"d":0.5,"e":1.0},
      {"t":10.75,"a":-0.1,"b":0.2,"c":0.25,"d":0.35,"e":0.6},
      {"t":10.82,"a":0.0,"b":0.28,"c":0.15,"d":0.2,"e":0.55},
      {"t":10.88,"a":0.2,"b":0.15,"c":0.1,"d":0.1,"e":0.85},
      {"t":10.94,"a":0.48,"b":0.12,"c":0.4,"d":0.05,"e":0.8},
      {"t":11.01,"a":0.3,"b":0.3,"c":0.3,"d":0.25,"e":0.65},
      {"t":11.07,"a":0.15,"b":0.35,"c":0.2,"d":0.3,"e":0.7},
      {"t":11.14,"a":0.05,"b":0.05,"c":0.2,"d":0.15,"e":0.75},
      {"t":11.2,"a":-0.05,"b":0.2,"c":0.05,"d":0.15,"e":0.95},
      {"t":11.26,"a":0.15,"b":0.3,"c":0.25,"d":0.2,"e":0.55},
      {"t":11.33,"a":0.2,"b":0.45,"c":0.35,"d":0.35,"e":0.6},
      {"t":11.39,"a":0.0,"b":0.2,"c":0.1,"d":0.05,"e":0.8},
      {"t":11.46,"a":0.1,"b":0.1,"c":0.12,"d":0.1,"e":0.85},
      {"t":11.52,"a":0.2,"b":0.35,"c":0.3,"d":0.3,"e":0.7},
      {"t":11.58,"a":0.35,"b":0.3,"c":0.3,"d":0.25,"e":0.5},
      {"t":11.65,"a":0.08,"b":0.2,"c":0.15,"d":0.15,"e":0.95},
      {"t":11.71,"a":-0.08,"b":0.15,"c":0.18,"d":0.05,"e":0.75},
      {"t":11.78,"a":0.25,"b":0.05,"c":0.25,"d":0.2,"e":0.6},
      {"t":11.84,"a":0.15,"b":0.3,"c":0.35,"d":0.2,"e":0.9},
      {"t":11.9,"a":0.05,"b":0.2,"c":0.2,"d":0.1,"e":0.7},
      {"t":11.97,"a":-0.1,"b":0.05,"c":0.1,"d":0.0,"e":0.6},
      {"t":12.03,"a":0.2,"b":0.35,"c":0.3,"d":0.2,"e":0.85},
      {"t":12.1,"a":0.2,"b":0.35,"c":0.28,"d":0.25,"e":0.85},
      {"t":12.16,"a":-0.05,"b":0.15,"c":0.15,"d":0.05,"e":0.6},
      {"t":12.22,"a":0.05,"b":0.15,"c":0.45,"d":0.1,"e":1.05},
      {"t":12.29,"a":0.15,"b":0.3,"c":0.25,"d":0.2,"e":0.8},
      {"t":12.35,"a":0.28,"b":0.4,"c":0.15,"d":0.3,"e":0.7},
      {"t":12.42,"a":0.05,"b":0.05,"c":0.35,"d":0.1,"e":0.7},
      {"t":12.48,"a":-0.05,"b":0.1,"c":0.3,"d":-0.05,"e":0.9},
      {"t":12.54,"a":0.3,"b":0.25,"c":0.15,"d":0.25,"e":0.95},
      {"t":12.61,"a":0.5,"b":0.3,"c":0.05,"d":0.2,"e":0.55},
      {"t":12.67,"a":0.15,"b":0.15,"c":0.3,"d":0.05,"e":0.75},
      {"t":12.74,"a":0.1,"b":-0.1,"c":0.4,"d":0.1,"e":0.8},
      {"t":12.8,"a":0.0,"b":0.35,"c":0.1,"d":0.2,"e":0.65},
      {"t":12.86,"a":0.2,"b":0.25,"c":0.2,"d":0.3,"e":0.95},
      {"t":12.93,"a":0.2,"b":0.15,"c":0.25,"d":0.15,"e":0.8},
      {"t":12.99,"a":-0.08,"b":0.45,"c":0.35,"d":0.05,"e":0.6},
      {"t":13.06,"a":0.1,"b":0.25,"c":0.15,"d":0.3,"e":0.7},
      {"t":13.12,"a":0.15,"b":0.15,"c":0.1,"d":0.22,"e":0.85},
      {"t":13.18,"a":-0.05,"b":0.05,"c":0.35,"d":0.1,"e":0.9},
      {"t":13.25,"a":0.3,"b":0.3,"c":0.45,"d":0.0,"e":1.0},
      {"t":13.31,"a":0.15,"b":0.3,"c":0.2,"d":0.2,"e":0.65},
      {"t":13.38,"a":0.05,"b":0.05,"c":0.22,"d":0.15,"e":0.7},
      {"t":13.44,"a":0.25,"b":0.15,"c":0.3,"d":0.05,"e":0.8},
      {"t":13.5,"a":0.18,"b":0.35,"c":0.05,"d":0.3,"e":0.9},
      {"t":13.57,"a":0.0,"b":0.25,"c":0.1,"d":0.2,"e":0.7},
      {"t":13.63,"a":-0.05,"b":-0.15,"c":0.3,"d":0.1,"e":0.75},
      {"t":13.7,"a":0.15,"b":0.05,"c":0.25,"d":0.15,"e":0.95},
      {"t":13.76,"a":0.25,"b":0.3,"c":0.15,"d":0.25,"e":1.15},
      {"t":13.82,"a":0.05,"b":0.35,"c":0.3,"d":0.1,"e":1.05},
      {"t":13.89,"a":0.1,"b":0.15,"c":0.35,"d":0.05,"e":0.95},
      {"t":13.95,"a":0.2,"b":0.2,"c":0.1,"d":0.2,"e":0.9},
      {"t":14.02,"a":0.2,"b":0.45,"c":0.05,"d":0.2,"e":1.0},
      {"t":14.08,"a":0.1,"b":0.25,"c":0.2,"d":0.05,"e":0.7},
      {"t":14.14,"a":-0.05,"b":0.1,"c":0.25,"d":-0.1,"e":0.8},
      {"t":14.21,"a":0.25,"b":0.05,"c":0.1,"d":0.15,"e":0.6},
      {"t":14.27,"a":0.15,"b":0.3,"c":0.1,"d":0.1,"e":0.45},
      {"t":14.34,"a":-0.05,"b":0.2,"c":0.25,"d":0.0,"e":0.35},
      {"t":14.4,"a":0.3,"b":0.05,"c":0.3,"d":-0.05,"e":0.3},
      {"t":14.46,"a":0.12,"b":0.3,"c":0.05,"d":0.1,"e":0.5},
      {"t":14.53,"a":0.0,"b":0.35,"c":0.0,"d":0.15,"e":0.55},
      {"t":14.59,"a":0.05,"b":0.1,"c":0.25,"d":-0.05,"e":0.3},
      {"t":14.66,"a":0.18,"b":-0.05,"c":0.2,"d":-0.12,"e":0.2},
      {"t":14.72,"a":0.2,"b":0.3,"c":0.1,"d":0.05,"e":0.45},
      {"t":14.78,"a":-0.12,"b":0.25,"c":0.1,"d":0.08,"e":0.6},
      {"t":14.85,"a":0.0,"b":0.05,"c":0.2,"d":0.12,"e":0.25},
      {"t":14.91,"a":0.25,"b":0.1,"c":0.3,"d":-0.05,"e":0.35},
      {"t":14.98,"a":0.15,"b":0.25,"c":0.05,"d":0.0,"e":0.5},
      {"t":15.04,"a":0.05,"b":0.4,"c":-0.05,"d":0.1,"e":0.5},
      {"t":15.1,"a":-0.05,"b":0.15,"c":0.25,"d":0.05,"e":0.35},
      {"t":15.17,"a":0.15,"b":-0.1,"c":0.2,"d":-0.15,"e":0.25},
      {"t":15.23,"a":0.12,"b":0.35,"c":0.0,"d":0.1,"e":0.6},
      {"t":15.3,"a":-0.1,"b":0.3,"c":0.1,"d":0.05,"e":0.55},
      {"t":15.36,"a":0.05,"b":0.1,"c":0.2,"d":-0.1,"e":0.3},
      {"t":15.42,"a":0.1,"b":0.15,"c":0.25,"d":-0.05,"e":0.4}
    ]
  },
  "vconcat": [
    {
      "title": {"text": "Maskweighted Lightcurve (64 ms binning) using the flight position", "anchor": "start", "frame": "group", "fontSize": 16.5, "fontWeight": "normal", "color": "black", "offset": 2},
      "data": {"name": "lc"},
      "width": 679,
      "height": 108.6,
      "layer": [
        {
          "mark": {"type": "line", "interpolate": "step-after", "color": "black", "strokeWidth": 1.4, "clip": true},
          "encoding": {
            "x": {"field": "t", "type": "quantitative", "scale": {"domain": [-15.7, 15.43], "nice": false, "zero": false},
                  "axis": {"orient": "bottom", "values": [-15, -10, -5, 0, 5, 10, 15], "tickSize": -8, "labels": false, "title": null}},
            "y": {"field": "a", "type": "quantitative", "scale": {"domain": [-0.445, 0.535], "nice": false, "zero": false},
                  "axis": {"orient": "left", "values": [-0.4, -0.2, 0, 0.2, 0.4], "tickSize": -8, "title": null, "labelExpr": "datum.value == 0 ? '0' : format(datum.value, '.1f')"}}
          }
        },
        {
          "data": {"values": [{}]},
          "mark": {"type": "rule", "color": "black", "strokeDash": [9, 5], "strokeWidth": 1},
          "encoding": {
            "x": {"datum": -15.7, "type": "quantitative", "axis": {"orient": "top", "values": [-15, -10, -5, 0, 5, 10, 15], "tickSize": -8, "labels": false, "title": null}},
            "x2": {"datum": 15.43},
            "y": {"datum": 0, "type": "quantitative", "axis": {"orient": "right", "values": [-0.4, -0.2, 0, 0.2, 0.4], "tickSize": -8, "labels": false, "title": null}}
          }
        },
        {
          "data": {"values": [{}]},
          "mark": {"type": "point", "opacity": 0},
          "encoding": {
            "x": {"datum": 0, "type": "quantitative", "axis": {"orient": "bottom", "values": [-15, -14, -13, -12, -11, -10, -9, -8, -7, -6, -5, -4, -3, -2, -1, 0, 1, 2, 3, 4, 5, 6, 7, 8, 9, 10, 11, 12, 13, 14, 15], "tickSize": -4, "labels": false, "title": null}},
            "y": {"datum": 0, "type": "quantitative", "axis": {"orient": "left", "values": [-0.4, -0.3, -0.2, -0.1, 0, 0.1, 0.2, 0.3, 0.4, 0.5], "tickSize": -4, "labels": false, "title": null}}
          }
        },
        {
          "data": {"values": [{}]},
          "mark": {"type": "point", "opacity": 0},
          "encoding": {
            "x": {"datum": 0, "type": "quantitative", "axis": {"orient": "top", "values": [-15, -14, -13, -12, -11, -10, -9, -8, -7, -6, -5, -4, -3, -2, -1, 0, 1, 2, 3, 4, 5, 6, 7, 8, 9, 10, 11, 12, 13, 14, 15], "tickSize": -4, "labels": false, "title": null}},
            "y": {"datum": 0, "type": "quantitative", "axis": {"orient": "right", "values": [-0.4, -0.3, -0.2, -0.1, 0, 0.1, 0.2, 0.3, 0.4, 0.5], "tickSize": -4, "labels": false, "title": null}}
          }
        },
        {
          "data": {"values": [{"label": "15-25 keV", "t": 9.54, "v": 0.27}]},
          "mark": {"type": "text", "align": "left", "baseline": "middle", "fontSize": 16.5, "color": "black"},
          "encoding": {
            "x": {"field": "t", "type": "quantitative", "axis": null},
            "y": {"field": "v", "type": "quantitative", "axis": null},
            "text": {"field": "label"}
          }
        }
      ],
      "resolve": {"axis": {"x": "independent", "y": "independent"}}
    },
    {
      "data": {"name": "lc"},
      "width": 679,
      "height": 108.6,
      "layer": [
        {
          "mark": {"type": "line", "interpolate": "step-after", "color": "#ff0000", "strokeWidth": 1.4, "clip": true},
          "encoding": {
            "x": {"field": "t", "type": "quantitative", "scale": {"domain": [-15.7, 15.43], "nice": false, "zero": false},
                  "axis": {"orient": "bottom", "values": [-15, -10, -5, 0, 5, 10, 15], "tickSize": -8, "labels": false, "title": null}},
            "y": {"field": "b", "type": "quantitative", "scale": {"domain": [-0.549, 1.009], "nice": false, "zero": false},
                  "axis": {"orient": "left", "values": [-0.5, 0, 0.5], "tickSize": -8, "title": null, "labelExpr": "datum.value == 0 ? '0' : format(datum.value, '.1f')"}}
          }
        },
        {
          "data": {"values": [{}]},
          "mark": {"type": "rule", "color": "black", "strokeDash": [9, 5], "strokeWidth": 1},
          "encoding": {
            "x": {"datum": -15.7, "type": "quantitative", "axis": {"orient": "top", "values": [-15, -10, -5, 0, 5, 10, 15], "tickSize": -8, "labels": false, "title": null}},
            "x2": {"datum": 15.43},
            "y": {"datum": 0, "type": "quantitative", "axis": {"orient": "right", "values": [-0.5, 0, 0.5], "tickSize": -8, "labels": false, "title": null}}
          }
        },
        {
          "data": {"values": [{}]},
          "mark": {"type": "point", "opacity": 0},
          "encoding": {
            "x": {"datum": 0, "type": "quantitative", "axis": {"orient": "bottom", "values": [-15, -14, -13, -12, -11, -10, -9, -8, -7, -6, -5, -4, -3, -2, -1, 0, 1, 2, 3, 4, 5, 6, 7, 8, 9, 10, 11, 12, 13, 14, 15], "tickSize": -4, "labels": false, "title": null}},
            "y": {"datum": 0, "type": "quantitative", "axis": {"orient": "left", "values": [-0.5, -0.4, -0.3, -0.2, -0.1, 0, 0.1, 0.2, 0.3, 0.4, 0.5, 0.6, 0.7, 0.8, 0.9, 1.0], "tickSize": -4, "labels": false, "title": null}}
          }
        },
        {
          "data": {"values": [{}]},
          "mark": {"type": "point", "opacity": 0},
          "encoding": {
            "x": {"datum": 0, "type": "quantitative", "axis": {"orient": "top", "values": [-15, -14, -13, -12, -11, -10, -9, -8, -7, -6, -5, -4, -3, -2, -1, 0, 1, 2, 3, 4, 5, 6, 7, 8, 9, 10, 11, 12, 13, 14, 15], "tickSize": -4, "labels": false, "title": null}},
            "y": {"datum": 0, "type": "quantitative", "axis": {"orient": "right", "values": [-0.5, -0.4, -0.3, -0.2, -0.1, 0, 0.1, 0.2, 0.3, 0.4, 0.5, 0.6, 0.7, 0.8, 0.9, 1.0], "tickSize": -4, "labels": false, "title": null}}
          }
        },
        {
          "data": {"values": [{"label": "25-50 keV", "t": 9.45, "v": 0.61}]},
          "mark": {"type": "text", "align": "left", "baseline": "middle", "fontSize": 16.5, "color": "#ff0000"},
          "encoding": {
            "x": {"field": "t", "type": "quantitative", "axis": null},
            "y": {"field": "v", "type": "quantitative", "axis": null},
            "text": {"field": "label"}
          }
        }
      ],
      "resolve": {"axis": {"x": "independent", "y": "independent"}}
    },
    {
      "data": {"name": "lc"},
      "width": 679,
      "height": 108.6,
      "layer": [
        {
          "mark": {"type": "line", "interpolate": "step-after", "color": "#00ff00", "strokeWidth": 1.4, "clip": true},
          "encoding": {
            "x": {"field": "t", "type": "quantitative", "scale": {"domain": [-15.7, 15.43], "nice": false, "zero": false},
                  "axis": {"orient": "bottom", "values": [-15, -10, -5, 0, 5, 10, 15], "tickSize": -8, "labels": false, "title": null}},
            "y": {"field": "c", "type": "quantitative", "scale": {"domain": [-0.559, 0.943], "nice": false, "zero": false},
                  "axis": {"orient": "left", "values": [-0.5, 0, 0.5], "tickSize": -8, "title": "Counts/sec/det", "titlePadding": 10, "labelExpr": "datum.value == 0 ? '0' : format(datum.value, '.1f')"}}
          }
        },
        {
          "data": {"values": [{}]},
          "mark": {"type": "rule", "color": "black", "strokeDash": [9, 5], "strokeWidth": 1},
          "encoding": {
            "x": {"datum": -15.7, "type": "quantitative", "axis": {"orient": "top", "values": [-15, -10, -5, 0, 5, 10, 15], "tickSize": -8, "labels": false, "title": null}},
            "x2": {"datum": 15.43},
            "y": {"datum": 0, "type": "quantitative", "axis": {"orient": "right", "values": [-0.5, 0, 0.5], "tickSize": -8, "labels": false, "title": null}}
          }
        },
        {
          "data": {"values": [{}]},
          "mark": {"type": "point", "opacity": 0},
          "encoding": {
            "x": {"datum": 0, "type": "quantitative", "axis": {"orient": "bottom", "values": [-15, -14, -13, -12, -11, -10, -9, -8, -7, -6, -5, -4, -3, -2, -1, 0, 1, 2, 3, 4, 5, 6, 7, 8, 9, 10, 11, 12, 13, 14, 15], "tickSize": -4, "labels": false, "title": null}},
            "y": {"datum": 0, "type": "quantitative", "axis": {"orient": "left", "values": [-0.5, -0.4, -0.3, -0.2, -0.1, 0, 0.1, 0.2, 0.3, 0.4, 0.5, 0.6, 0.7, 0.8, 0.9], "tickSize": -4, "labels": false, "title": null}}
          }
        },
        {
          "data": {"values": [{}]},
          "mark": {"type": "point", "opacity": 0},
          "encoding": {
            "x": {"datum": 0, "type": "quantitative", "axis": {"orient": "top", "values": [-15, -14, -13, -12, -11, -10, -9, -8, -7, -6, -5, -4, -3, -2, -1, 0, 1, 2, 3, 4, 5, 6, 7, 8, 9, 10, 11, 12, 13, 14, 15], "tickSize": -4, "labels": false, "title": null}},
            "y": {"datum": 0, "type": "quantitative", "axis": {"orient": "right", "values": [-0.5, -0.4, -0.3, -0.2, -0.1, 0, 0.1, 0.2, 0.3, 0.4, 0.5, 0.6, 0.7, 0.8, 0.9], "tickSize": -4, "labels": false, "title": null}}
          }
        },
        {
          "data": {"values": [{"label": "50-100 keV", "t": 9.17, "v": 0.57}]},
          "mark": {"type": "text", "align": "left", "baseline": "middle", "fontSize": 16.5, "color": "#00ff00"},
          "encoding": {
            "x": {"field": "t", "type": "quantitative", "axis": null},
            "y": {"field": "v", "type": "quantitative", "axis": null},
            "text": {"field": "label"}
          }
        }
      ],
      "resolve": {"axis": {"x": "independent", "y": "independent"}}
    },
    {
      "data": {"name": "lc"},
      "width": 679,
      "height": 108.6,
      "layer": [
        {
          "mark": {"type": "line", "interpolate": "step-after", "color": "#0000ff", "strokeWidth": 1.4, "clip": true},
          "encoding": {
            "x": {"field": "t", "type": "quantitative", "scale": {"domain": [-15.7, 15.43], "nice": false, "zero": false},
                  "axis": {"orient": "bottom", "values": [-15, -10, -5, 0, 5, 10, 15], "tickSize": -8, "labels": false, "title": null}},
            "y": {"field": "d", "type": "quantitative", "scale": {"domain": [-0.505, 0.68], "nice": false, "zero": false},
                  "axis": {"orient": "left", "values": [-0.5, 0, 0.5], "tickSize": -8, "title": null, "labelExpr": "datum.value == 0 ? '0' : format(datum.value, '.1f')"}}
          }
        },
        {
          "data": {"values": [{}]},
          "mark": {"type": "rule", "color": "black", "strokeDash": [9, 5], "strokeWidth": 1},
          "encoding": {
            "x": {"datum": -15.7, "type": "quantitative", "axis": {"orient": "top", "values": [-15, -10, -5, 0, 5, 10, 15], "tickSize": -8, "labels": false, "title": null}},
            "x2": {"datum": 15.43},
            "y": {"datum": 0, "type": "quantitative", "axis": {"orient": "right", "values": [-0.5, 0, 0.5], "tickSize": -8, "labels": false, "title": null}}
          }
        },
        {
          "data": {"values": [{}]},
          "mark": {"type": "point", "opacity": 0},
          "encoding": {
            "x": {"datum": 0, "type": "quantitative", "axis": {"orient": "bottom", "values": [-15, -14, -13, -12, -11, -10, -9, -8, -7, -6, -5, -4, -3, -2, -1, 0, 1, 2, 3, 4, 5, 6, 7, 8, 9, 10, 11, 12, 13, 14, 15], "tickSize": -4, "labels": false, "title": null}},
            "y": {"datum": 0, "type": "quantitative", "axis": {"orient": "left", "values": [-0.5, -0.4, -0.3, -0.2, -0.1, 0, 0.1, 0.2, 0.3, 0.4, 0.5, 0.6], "tickSize": -4, "labels": false, "title": null}}
          }
        },
        {
          "data": {"values": [{}]},
          "mark": {"type": "point", "opacity": 0},
          "encoding": {
            "x": {"datum": 0, "type": "quantitative", "axis": {"orient": "top", "values": [-15, -14, -13, -12, -11, -10, -9, -8, -7, -6, -5, -4, -3, -2, -1, 0, 1, 2, 3, 4, 5, 6, 7, 8, 9, 10, 11, 12, 13, 14, 15], "tickSize": -4, "labels": false, "title": null}},
            "y": {"datum": 0, "type": "quantitative", "axis": {"orient": "right", "values": [-0.5, -0.4, -0.3, -0.2, -0.1, 0, 0.1, 0.2, 0.3, 0.4, 0.5, 0.6], "tickSize": -4, "labels": false, "title": null}}
          }
        },
        {
          "data": {"values": [{"label": "100-350 keV", "t": 9.0, "v": 0.38}]},
          "mark": {"type": "text", "align": "left", "baseline": "middle", "fontSize": 16.5, "color": "#0000ff"},
          "encoding": {
            "x": {"field": "t", "type": "quantitative", "axis": null},
            "y": {"field": "v", "type": "quantitative", "axis": null},
            "text": {"field": "label"}
          }
        }
      ],
      "resolve": {"axis": {"x": "independent", "y": "independent"}}
    },
    {
      "data": {"name": "lc"},
      "width": 679,
      "height": 108.6,
      "layer": [
        {
          "mark": {"type": "line", "interpolate": "step-after", "color": "#ff00ff", "strokeWidth": 1.4, "clip": true},
          "encoding": {
            "x": {"field": "t", "type": "quantitative", "scale": {"domain": [-15.7, 15.43], "nice": false, "zero": false},
                  "axis": {"orient": "bottom", "values": [-15, -10, -5, 0, 5, 10, 15], "tickSize": -8, "labelPadding": 15, "labelExpr": "format(datum.value, '.0f')", "title": "Time since BAT trigger time [sec] (UT 2010-01-19T18:25:25.7)", "titleFontSize": 17, "titlePadding": 6}},
            "y": {"field": "e", "type": "quantitative", "scale": {"domain": [-0.837, 2.195], "nice": false, "zero": false},
                  "axis": {"orient": "left", "values": [0, 1, 2], "tickSize": -8, "title": null, "labelExpr": "format(datum.value, '.0f')"}}
          }
        },
        {
          "data": {"values": [{}]},
          "mark": {"type": "rule", "color": "black", "strokeDash": [9, 5], "strokeWidth": 1},
          "encoding": {
            "x": {"datum": -15.7, "type": "quantitative", "axis": {"orient": "top", "values": [-15, -10, -5, 0, 5, 10, 15], "tickSize": -8, "labels": false, "title": null}},
            "x2": {"datum": 15.43},
            "y": {"datum": 0, "type": "quantitative", "axis": {"orient": "right", "values": [0, 1, 2], "tickSize": -8, "labels": false, "title": null}}
          }
        },
        {
          "data": {"values": [{}]},
          "mark": {"type": "point", "opacity": 0},
          "encoding": {
            "x": {"datum": 0, "type": "quantitative", "axis": {"orient": "bottom", "values": [-15, -14, -13, -12, -11, -10, -9, -8, -7, -6, -5, -4, -3, -2, -1, 0, 1, 2, 3, 4, 5, 6, 7, 8, 9, 10, 11, 12, 13, 14, 15], "tickSize": -4, "labels": false, "title": null}},
            "y": {"datum": 0, "type": "quantitative", "axis": {"orient": "left", "values": [-0.8, -0.6, -0.4, -0.2, 0, 0.2, 0.4, 0.6, 0.8, 1.0, 1.2, 1.4, 1.6, 1.8, 2.0], "tickSize": -4, "labels": false, "title": null}}
          }
        },
        {
          "data": {"values": [{}]},
          "mark": {"type": "point", "opacity": 0},
          "encoding": {
            "x": {"datum": 0, "type": "quantitative", "axis": {"orient": "top", "values": [-15, -14, -13, -12, -11, -10, -9, -8, -7, -6, -5, -4, -3, -2, -1, 0, 1, 2, 3, 4, 5, 6, 7, 8, 9, 10, 11, 12, 13, 14, 15], "tickSize": -4, "labels": false, "title": null}},
            "y": {"datum": 0, "type": "quantitative", "axis": {"orient": "right", "values": [-0.8, -0.6, -0.4, -0.2, 0, 0.2, 0.4, 0.6, 0.8, 1.0, 1.2, 1.4, 1.6, 1.8, 2.0], "tickSize": -4, "labels": false, "title": null}}
          }
        },
        {
          "data": {"values": [{"t": -9.23}, {"t": 13.78}]},
          "mark": {"type": "rule", "color": "black", "strokeDash": [8, 5], "strokeWidth": 1.2},
          "encoding": {
            "x": {"field": "t", "type": "quantitative", "axis": null}
          }
        },
        {
          "data": {"values": [{"t": -4.11}, {"t": 8.32}]},
          "mark": {"type": "rule", "color": "#00ff00", "strokeDash": [8, 3, 2, 3], "strokeWidth": 1.4},
          "encoding": {
            "x": {"field": "t", "type": "quantitative", "axis": null}
          }
        },
        {
          "data": {"values": [{"label": "15-350 keV", "t": 9.27, "v": 1.42}]},
          "mark": {"type": "text", "align": "left", "baseline": "middle", "fontSize": 16.5, "color": "#ff00ff"},
          "encoding": {
            "x": {"field": "t", "type": "quantitative", "axis": null},
            "y": {"field": "v", "type": "quantitative", "axis": null},
            "text": {"field": "label"}
          }
        }
      ],
      "resolve": {"axis": {"x": "independent", "y": "independent"}}
    }
  ],
  "config": {
    "font": "DejaVu Sans",
    "view": {"stroke": "black", "strokeWidth": 1},
    "axis": {
      "grid": false,
      "domain": false,
      "tickColor": "black",
      "tickWidth": 1,
      "labelColor": "black",
      "labelFontSize": 16,
      "labelFlush": false,
      "labelOverlap": false,
      "labelPadding": 20,
      "titleColor": "black",
      "titleFontSize": 16.5,
      "titleFontWeight": "normal"
    }
  }
}
